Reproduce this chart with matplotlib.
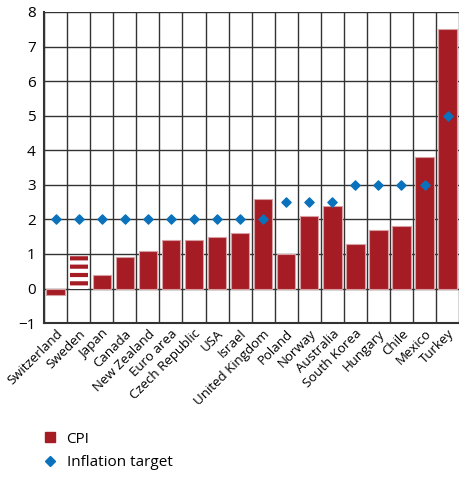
import matplotlib.pyplot as plt
from matplotlib.lines import Line2D
import numpy as np

plt.rcParams["font.family"] = ["Open Sans", "DejaVu Sans"]

countries = ["Switzerland", "Sweden", "Japan", "Canada", "New Zealand", "Euro area",
             "Czech Republic", "USA", "Israel", "United Kingdom", "Poland", "Norway",
             "Australia", "South Korea", "Hungary", "Chile", "Mexico", "Turkey"]
cpi = [-0.2, 0.95, 0.4, 0.9, 1.1, 1.4, 1.4, 1.5, 1.6, 2.6, 1.0, 2.1, 2.4, 1.3, 1.7, 1.8, 3.8, 7.5]
target = [2, 2, 2, 2, 2, 2, 2, 2, 2, 2, 2.5, 2.5, 2.5, 3, 3, 3, 3, 5]
striped = ["Sweden"]

RED = "#A51C24"
BLUE = "#0A72BD"

plt.rcParams["hatch.linewidth"] = 3.0

fig = plt.figure(figsize=(4.6, 4.78), dpi=100)
ax = fig.add_axes([0.096, 0.324, 0.902, 0.651])

x = np.arange(len(countries))
for xi, name, val in zip(x, countries, cpi):
    if name in striped:
        ax.bar(xi, val, width=0.8, color=RED, edgecolor="white", hatch="--",
               linewidth=0, zorder=3)
    else:
        ax.bar(xi, val, width=0.8, color=RED, edgecolor="#d9a0a4", linewidth=0.8,
               zorder=3)
ax.scatter(x, target, marker="D", s=22, color=BLUE, zorder=4)

ax.set_xlim(-0.5, len(countries) - 0.5)
ax.set_ylim(-1, 8)
ax.set_yticks(range(-1, 9))
ax.set_xticks(x)
ax.set_xticklabels(countries, rotation=45, ha="right", rotation_mode="anchor",
                   fontsize=9.5)
ax.tick_params(axis="y", labelsize=11, length=0, pad=6)
ax.tick_params(axis="x", length=0, pad=3)

# vertical separators between categories plus horizontal grid
ax.set_xticks(np.arange(-0.5, len(countries)), minor=True)
ax.grid(which="minor", axis="x", color="#333333", linewidth=1.0, zorder=1)
ax.grid(which="major", axis="y", color="#333333", linewidth=1.0, zorder=1)
ax.tick_params(which="minor", length=0)

for side in ["top", "right"]:
    ax.spines[side].set_visible(False)
for side in ["left", "bottom"]:
    ax.spines[side].set_color("#333333")
    ax.spines[side].set_linewidth(1.5)

handles = [
    Line2D([], [], marker="s", linestyle="none", color=RED, markersize=7.5),
    Line2D([], [], marker="D", linestyle="none", color=BLUE, markersize=5),
]
fig.legend(handles, ["CPI", "Inflation target"], loc="lower left",
           bbox_to_anchor=(0.065, -0.012), frameon=False, fontsize=11,
           handlelength=0.8, handletextpad=0.7, labelspacing=0.55)

fig.savefig("out.png", dpi=100)
